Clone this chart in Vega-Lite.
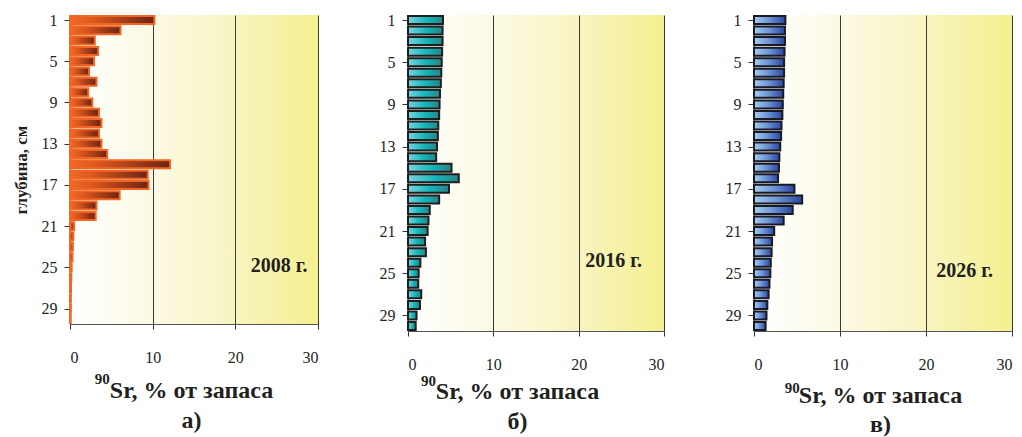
{
  "$schema": "https://vega.github.io/schema/vega-lite/v6.json",
  "background": "white",
  "padding": {"left": 12, "top": 12, "right": 8, "bottom": 0},
  "spacing": 90,
  "bounds": "flush",
  "data": {
    "values": [
      {"depth": 1, "y2008": 10.2, "y2016": 4.1, "y2026": 3.65},
      {"depth": 2, "y2008": 6.1, "y2016": 4.05, "y2026": 3.6},
      {"depth": 3, "y2008": 3.0, "y2016": 4.05, "y2026": 3.6},
      {"depth": 4, "y2008": 3.4, "y2016": 4.0, "y2026": 3.55},
      {"depth": 5, "y2008": 2.9, "y2016": 3.95, "y2026": 3.5},
      {"depth": 6, "y2008": 2.3, "y2016": 3.9, "y2026": 3.5},
      {"depth": 7, "y2008": 3.2, "y2016": 3.85, "y2026": 3.45},
      {"depth": 8, "y2008": 2.2, "y2016": 3.75, "y2026": 3.4},
      {"depth": 9, "y2008": 2.7, "y2016": 3.7, "y2026": 3.35},
      {"depth": 10, "y2008": 3.5, "y2016": 3.65, "y2026": 3.3},
      {"depth": 11, "y2008": 3.8, "y2016": 3.55, "y2026": 3.2},
      {"depth": 12, "y2008": 3.5, "y2016": 3.5, "y2026": 3.15},
      {"depth": 13, "y2008": 3.8, "y2016": 3.4, "y2026": 3.05},
      {"depth": 14, "y2008": 4.5, "y2016": 3.3, "y2026": 2.95},
      {"depth": 15, "y2008": 12.1, "y2016": 5.1, "y2026": 2.9},
      {"depth": 16, "y2008": 9.4, "y2016": 5.95, "y2026": 2.8},
      {"depth": 17, "y2008": 9.5, "y2016": 4.8, "y2026": 4.7},
      {"depth": 18, "y2008": 6.0, "y2016": 3.65, "y2026": 5.6},
      {"depth": 19, "y2008": 3.2, "y2016": 2.55, "y2026": 4.5},
      {"depth": 20, "y2008": 3.1, "y2016": 2.4, "y2026": 3.45},
      {"depth": 21, "y2008": 0.5, "y2016": 2.3, "y2026": 2.35},
      {"depth": 22, "y2008": 0.4, "y2016": 2.0, "y2026": 2.1},
      {"depth": 23, "y2008": 0.35, "y2016": 2.1, "y2026": 2.05},
      {"depth": 24, "y2008": 0.3, "y2016": 1.45, "y2026": 1.95},
      {"depth": 25, "y2008": 0.2, "y2016": 1.25, "y2026": 1.9},
      {"depth": 26, "y2008": 0.15, "y2016": 1.2, "y2026": 1.8},
      {"depth": 27, "y2008": 0.12, "y2016": 1.55, "y2026": 1.7},
      {"depth": 28, "y2008": 0.1, "y2016": 1.4, "y2026": 1.55},
      {"depth": 29, "y2008": 0.1, "y2016": 1.0, "y2026": 1.45},
      {"depth": 30, "y2008": 0.08, "y2016": 0.9, "y2026": 1.35}
    ]
  },
  "hconcat": [
    {
      "width": 248,
      "height": 309,
      "view": {
        "stroke": null,
        "fill": {"gradient": "linear", "x1": 0, "x2": 1, "y1": 0, "y2": 0,
          "stops": [{"offset": 0, "color": "#FFFFFF"}, {"offset": 0.33, "color": "#FCFAE4"}, {"offset": 0.67, "color": "#F8F4BF"}, {"offset": 1, "color": "#F5F08F"}]}
      },
      "layer": [
        {
          "mark": {"type": "bar", "orient": "horizontal", "size": 8, "stroke": "#F26522", "strokeWidth": 2,
            "fill": {"gradient": "linear", "x1": 0, "x2": 1, "y1": 0, "y2": 0,
              "stops": [{"offset": 0, "color": "#F26A24"}, {"offset": 0.3, "color": "#D9561E"}, {"offset": 1, "color": "#6A2413"}]}},
          "encoding": {
            "y": {"field": "depth", "type": "quantitative",
              "scale": {"domain": [1, 30], "reverse": true, "nice": false, "zero": false},
              "axis": {"title": "глубина, см", "values": [1,2,3,4,5,6,7,8,9,10,11,12,13,14,15,16,17,18,19,20,21,22,23,24,25,26,27,28,29,30],
                "labelExpr": "(datum.value - 1) % 4 == 0 ? datum.label : ''",
                "titleFont": "Liberation Serif", "titleFontSize": 17, "titleFontWeight": "bold", "titleColor": "#231F20", "titlePadding": 11}},
            "x": {"field": "y2008", "type": "quantitative",
              "scale": {"domain": [0, 30], "nice": false},
              "axis": {"title": ["Sr, % от запаса", "а)\u00a0\u00a0\u00a0"], "values": [0, 10, 20, 30], "titleX": 121, "titlePadding": 13,
                "titleFont": "Times New Roman, Liberation Serif, serif", "titleFontSize": 24, "titleFontWeight": "bold", "titleColor": "#231F20", "titleLineHeight": 30}}
          }
        },
        {
          "data": {"values": [{"label": "2008 г."}]},
          "mark": {"type": "text", "font": "Liberation Serif", "fontSize": 20, "fontWeight": "bold", "fill": "#231F20"},
          "encoding": {"x": {"datum": 25.3}, "y": {"datum": 24.9}, "text": {"field": "label"}}
        },
        {
          "data": {"values": [{"isotope": "90"}]},
          "mark": {"type": "text", "font": "Liberation Serif", "fontSize": 15, "fontWeight": "bold", "fill": "#231F20"},
          "encoding": {"x": {"datum": 3.9}, "y": {"datum": 35.8}, "text": {"field": "isotope"}}
        }
      ]
    },
    {
      "width": 256,
      "height": 316,
      "view": {
        "stroke": null,
        "fill": {"gradient": "linear", "x1": 0, "x2": 1, "y1": 0, "y2": 0,
          "stops": [{"offset": 0, "color": "#FFFFFF"}, {"offset": 0.33, "color": "#FCFAE4"}, {"offset": 0.67, "color": "#F8F4BF"}, {"offset": 1, "color": "#F5F08F"}]}
      },
      "layer": [
        {
          "mark": {"type": "bar", "orient": "horizontal", "size": 8, "stroke": "#1E1E1E", "strokeWidth": 2,
            "fill": {"gradient": "linear", "x1": 0, "x2": 1, "y1": 0, "y2": 0,
              "stops": [{"offset": 0, "color": "#78D4DF"}, {"offset": 0.55, "color": "#12B6B9"}, {"offset": 1, "color": "#2A8384"}]}},
          "encoding": {
            "y": {"field": "depth", "type": "quantitative",
              "scale": {"domain": [1, 30], "reverse": true, "nice": false, "zero": false},
              "axis": {"title": null, "values": [1,2,3,4,5,6,7,8,9,10,11,12,13,14,15,16,17,18,19,20,21,22,23,24,25,26,27,28,29,30],
                "labelExpr": "(datum.value - 1) % 4 == 0 ? datum.label : ''"}},
            "x": {"field": "y2016", "type": "quantitative",
              "scale": {"domain": [0, 30], "nice": false},
              "axis": {"title": ["Sr, % от запаса", "б)"], "values": [0, 10, 20, 30], "titleX": 109, "titlePadding": 7,
                "titleFont": "Times New Roman, Liberation Serif, serif", "titleFontSize": 24, "titleFontWeight": "bold", "titleColor": "#231F20", "titleLineHeight": 30}}
          }
        },
        {
          "data": {"values": [{"label": "2016 г."}]},
          "mark": {"type": "text", "font": "Liberation Serif", "fontSize": 20, "fontWeight": "bold", "fill": "#231F20"},
          "encoding": {"x": {"datum": 24.1}, "y": {"datum": 23.8}, "text": {"field": "label"}}
        },
        {
          "data": {"values": [{"isotope": "90"}]},
          "mark": {"type": "text", "font": "Liberation Serif", "fontSize": 15, "fontWeight": "bold", "fill": "#231F20"},
          "encoding": {"x": {"datum": 2.4}, "y": {"datum": 35.2}, "text": {"field": "isotope"}}
        }
      ]
    },
    {
      "width": 258,
      "height": 316,
      "view": {
        "stroke": null,
        "fill": {"gradient": "linear", "x1": 0, "x2": 1, "y1": 0, "y2": 0,
          "stops": [{"offset": 0, "color": "#FFFFFF"}, {"offset": 0.33, "color": "#FCFAE4"}, {"offset": 0.67, "color": "#F8F4BF"}, {"offset": 1, "color": "#F5F08F"}]}
      },
      "layer": [
        {
          "mark": {"type": "bar", "orient": "horizontal", "size": 8, "stroke": "#1A1A24", "strokeWidth": 2,
            "fill": {"gradient": "linear", "x1": 0, "x2": 1, "y1": 0, "y2": 0,
              "stops": [{"offset": 0, "color": "#A8CEEF"}, {"offset": 0.5, "color": "#6A93D4"}, {"offset": 1, "color": "#2B45A0"}]}},
          "encoding": {
            "y": {"field": "depth", "type": "quantitative",
              "scale": {"domain": [1, 30], "reverse": true, "nice": false, "zero": false},
              "axis": {"title": null, "values": [1,2,3,4,5,6,7,8,9,10,11,12,13,14,15,16,17,18,19,20,21,22,23,24,25,26,27,28,29,30],
                "labelExpr": "(datum.value - 1) % 4 == 0 ? datum.label : ''"}},
            "x": {"field": "y2026", "type": "quantitative",
              "scale": {"domain": [0, 30], "nice": false},
              "axis": {"title": ["Sr, % от запаса", "в)\u00a0\u00a0\u00a0"], "values": [0, 10, 20, 30], "titleX": 126, "titlePadding": 11,
                "titleFont": "Times New Roman, Liberation Serif, serif", "titleFontSize": 24, "titleFontWeight": "bold", "titleColor": "#231F20", "titleLineHeight": 29}}
          }
        },
        {
          "data": {"values": [{"label": "2026 г."}]},
          "mark": {"type": "text", "font": "Liberation Serif", "fontSize": 20, "fontWeight": "bold", "fill": "#231F20"},
          "encoding": {"x": {"datum": 24.5}, "y": {"datum": 24.8}, "text": {"field": "label"}}
        },
        {
          "data": {"values": [{"isotope": "90"}]},
          "mark": {"type": "text", "font": "Liberation Serif", "fontSize": 15, "fontWeight": "bold", "fill": "#231F20"},
          "encoding": {"x": {"datum": 4.45}, "y": {"datum": 35.9}, "text": {"field": "isotope"}}
        }
      ]
    }
  ],
  "config": {
    "font": "Liberation Serif",
    "axis": {
      "labelFont": "Liberation Serif",
      "labelFontSize": 16,
      "labelColor": "#231F20",
      "domainColor": "#555555",
      "domainWidth": 1.2,
      "tickColor": "#333333",
      "tickSize": 6,
      "tickWidth": 1,
      "grid": false
    },
    "axisY": {"labelPadding": 7, "labelOverlap": false},
    "axisX": {
      "grid": true,
      "gridColor": "#3A3A3A",
      "gridWidth": 1,
      "gridOpacity": 1,
      "tickSize": 5,
      "labelPadding": 20
    }
  }
}
